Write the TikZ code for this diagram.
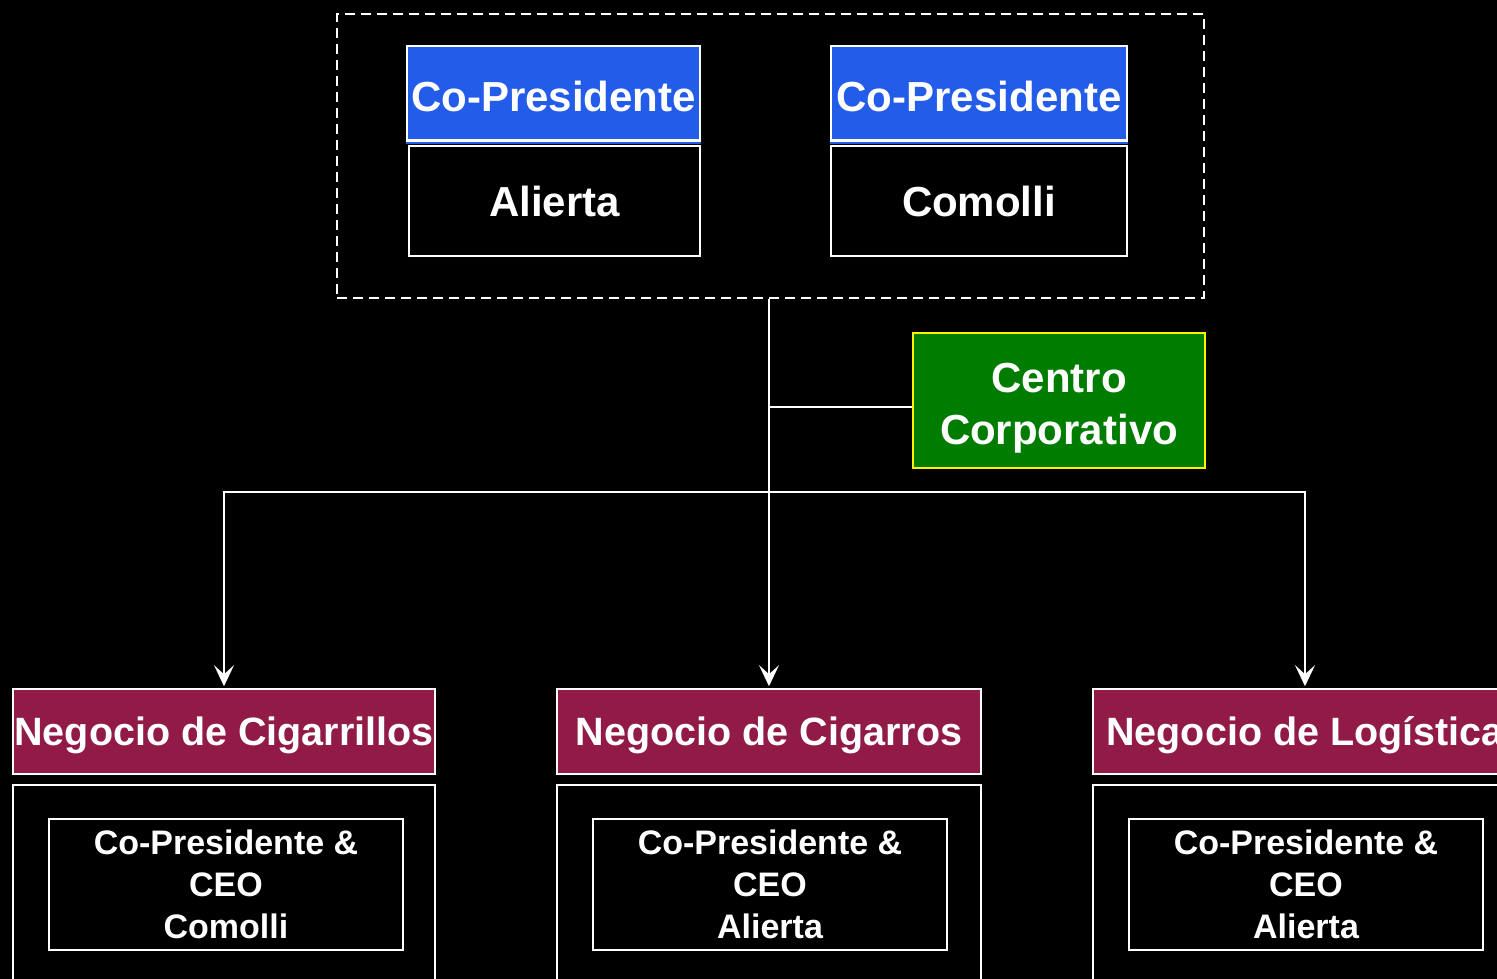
\documentclass[tikz,border=0pt]{standalone}
\usepackage{fontspec}
\setmainfont{Liberation Sans}
\usetikzlibrary{arrows.meta}
\definecolor{topblue}{RGB}{36,92,234}
\definecolor{maroon}{RGB}{145,27,70}
\definecolor{ccgreen}{RGB}{0,125,0}
\tikzset{
  box/.style={draw=white, line width=1.6pt, rectangle, inner sep=0pt, text=white, align=center},
  txt/.style={inner sep=0pt, text=white, align=center},
  bluebox/.style={box, fill=topblue},
  bluetxt/.style={txt, font=\fontsize{42}{48}\selectfont\bfseries},
  namebox/.style={box, fill=black, font=\fontsize{42}{48}\selectfont\bfseries},
  ccbox/.style={box, draw=yellow, fill=ccgreen},
  cctxt/.style={txt, font=\fontsize{42}{52}\selectfont\bfseries},
  negbox/.style={box, fill=maroon},
  negtxt/.style={txt, font=\fontsize{39.5}{46}\selectfont\bfseries},
  outerbox/.style={box, fill=black},
  ceobox/.style={box, fill=black, font=\fontsize{34}{42}\selectfont\bfseries},
  link/.style={draw=white, line width=2pt},
  arr/.style={link, -{Stealth[length=21pt,width=20pt,inset=9pt]}},
}
\begin{document}
\begin{tikzpicture}[x=1pt,y=-1pt]
\useasboundingbox (0,0) rectangle (1497,979);
\fill[black] (0,0) rectangle (1497,979);
\clip (0,0) rectangle (1497,979);

% group
\node[draw=white, line width=2pt, dash pattern=on 10pt off 6pt, minimum width=867pt, minimum height=284pt, inner sep=0pt] (grp) at (770.5,156) {};

\node[bluebox, minimum width=293pt, minimum height=94pt] (cp1) at (553.5,93) {};
\node[namebox, minimum width=291pt, minimum height=110pt] (n1) at (554.5,201) {Alierta};
\fill[topblue] ([yshift=-1pt]cp1.south west) rectangle ([yshift=1pt]n1.north east);
\node[bluebox, minimum width=296pt, minimum height=94pt] (cp2) at (979,93) {};
\node[namebox, minimum width=296pt, minimum height=110pt] (n2) at (979,201) {Comolli};
\fill[topblue] ([yshift=-1pt]cp2.south west) rectangle ([yshift=1pt]n2.north east);
\draw[white, line width=1.6pt] (cp1.south west) -- (cp1.south east);
\draw[white, line width=1.6pt] (cp2.south west) -- (cp2.south east);
\node[bluetxt] (cp1t) at ([yshift=-3pt]cp1.center) {Co-Presidente};
\node[bluetxt] (cp2t) at ([yshift=-3pt]cp2.center) {Co-Presidente};

\node[ccbox, minimum width=292pt, minimum height=135pt] (cc) at (1059,400.5) {};
\node[cctxt] (cct) at ([yshift=-8pt]cc.center) {Centro\\Corporativo};

% business units
\node[negbox, minimum width=422pt, minimum height=85pt] (ng1) at (224,731.5) {};
\node[negbox, minimum width=424pt, minimum height=85pt] (ng2) at (769,731.5) {};
\node[negbox, minimum width=424pt, minimum height=85pt] (ng3) at (1305,731.5) {};
\node[negtxt] (ng1t) at ([yshift=-4pt]ng1.center) {Negocio de Cigarrillos};
\node[negtxt] (ng2t) at ([yshift=-4pt]ng2.center) {Negocio de Cigarros};
\node[negtxt] (ng3t) at ([yshift=-4pt]ng3.center) {Negocio de Logística};

\node[outerbox, minimum width=422pt, minimum height=230pt] (ob1) at (224,900) {};
\node[outerbox, minimum width=424pt, minimum height=230pt] (ob2) at (769,900) {};
\node[outerbox, minimum width=424pt, minimum height=230pt] (ob3) at (1305,900) {};

\node[ceobox, minimum width=354pt, minimum height=131pt] (ce1) at (226,884.5) {Co-Presidente \&\\CEO\\Comolli};
\node[ceobox, minimum width=354pt, minimum height=131pt] (ce2) at (770,884.5) {Co-Presidente \&\\CEO\\Alierta};
\node[ceobox, minimum width=354pt, minimum height=131pt] (ce3) at (1306,884.5) {Co-Presidente \&\\CEO\\Alierta};

% connectors
\coordinate (bus) at (769,492);
\draw[link] (cc.west |- 0,407) -- (769,407);
\draw[arr] (grp.south -| ng2.north) -- ([yshift=2pt]ng2.north);
\draw[arr] (bus) -| ([yshift=2pt]ng1.north);
\draw[arr] (bus) -| ([yshift=2pt]ng3.north);
\end{tikzpicture}
\end{document}
